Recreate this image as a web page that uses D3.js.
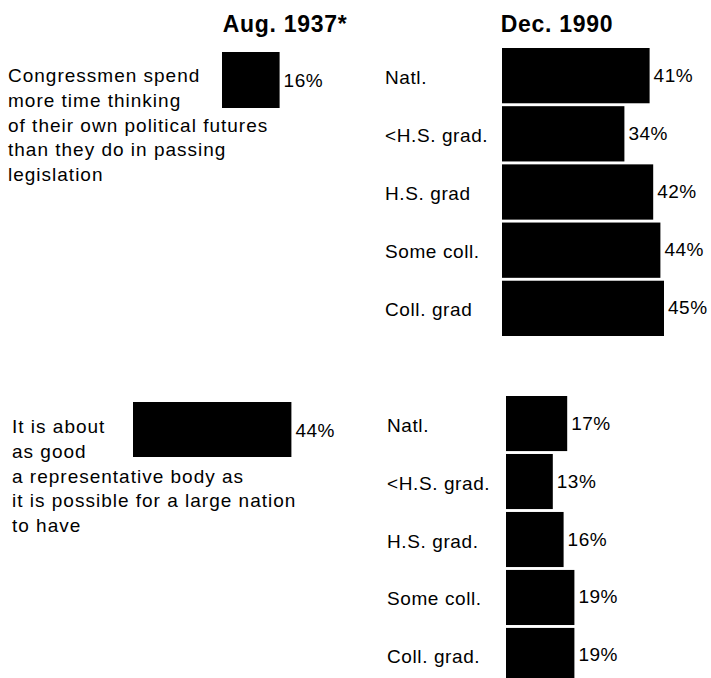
<!DOCTYPE html>
<html>
<head>
<meta charset="utf-8">
<script src="https://cdn.jsdelivr.net/npm/d3@7"></script>
<style>
  body { margin: 0; background: #fff; }
  text { font-family: "Liberation Sans", Arial, sans-serif; fill: #000; }
</style>
</head>
<body>
<div id="chart"></div>
<script>
// data
const headers = ["Aug. 1937*", "Dec. 1990"]
const question1 = ["Congressmen spend", "more time thinking", "of their own political futures", "than they do in passing", "legislation"]
const question2 = ["It is about", "as good", "a representative body as", "it is possible for a large nation", "to have"]
const aug1937 = [16, 44]
const groups1 = ["Natl.", "<H.S. grad.", "H.S. grad", "Some coll.", "Coll. grad"]
const groups2 = ["Natl.", "<H.S. grad.", "H.S. grad.", "Some coll.", "Coll. grad."]
const dec1990q1 = [41, 34, 42, 44, 45]
const dec1990q2 = [17, 13, 16, 19, 19]

const width = 711
const height = 678

const svg = d3.select("div#chart").append("svg").attr("width", width).attr("height", height)

// one scale for every bar (3.6px per point)
const x = d3.scaleLinear().domain([0, 50]).range([0, 180])

// headers
svg.selectAll("text.header").data(headers).join("text")
    .attr("class", "header")
    .attr("x", (d, i) => i == 0 ? 285 : 557)
    .attr("y", 32)
    .attr("text-anchor", "middle")
    .style("font-size", "23px")
    .style("font-weight", "bold")
    .style("letter-spacing", "0.7px")
    .text(d => d)

// left side: question text + 1937 bar
const panels = [
    {lines: question1, value: aug1937[0], textX: 8, textY: 82, barX: 222, barY: 52, barH: 56},
    {lines: question2, value: aug1937[1], textX: 12, textY: 433, barX: 133, barY: 402, barH: 55}
]

panels.forEach(p => {
    const g = svg.append("g").attr("class", "leftPanel")
    g.selectAll("text.line").data(p.lines).join("text")
        .attr("class", "line")
        .attr("x", p.textX)
        .attr("y", (d, i) => p.textY + i * 24.8)
        .style("font-size", "19px")
        .style("letter-spacing", "1px")
        .text(d => d)
    g.append("rect")
        .attr("x", p.barX)
        .attr("y", p.barY)
        .attr("width", x(p.value))
        .attr("height", p.barH)
        .attr("fill", "#000")
    g.append("text")
        .attr("x", p.barX + x(p.value) + 4)
        .attr("y", p.barY + p.barH / 2 + 7)
        .style("font-size", "19px")
        .style("letter-spacing", "0.5px")
        .text(p.value + "%")
})

// right side: 1990 breakdowns
const blocks = [
    {groups: groups1, values: dec1990q1, top: 48, bottom: 336, barX: 502, labelX: 385},
    {groups: groups2, values: dec1990q2, top: 396, bottom: 683, barX: 506, labelX: 387}
]

blocks.forEach(b => {
    const y = d3.scaleBand().domain(b.groups).range([b.top, b.bottom]).paddingInner(0.05)
    const g = svg.append("g").attr("class", "rightBlock")
    const data = b.groups.map((d, i) => ({group: d, value: b.values[i]}))

    g.selectAll("rect").data(data).join("rect")
        .attr("x", b.barX)
        .attr("y", d => y(d.group))
        .attr("width", d => x(d.value))
        .attr("height", y.bandwidth())
        .attr("fill", "#000")

    g.selectAll("text.cat").data(data).join("text")
        .attr("class", "cat")
        .attr("x", b.labelX)
        .attr("y", d => y(d.group) + y.bandwidth() / 2 + 8)
        .style("font-size", "19px")
        .style("letter-spacing", "0.6px")
        .text(d => d.group)

    g.selectAll("text.val").data(data).join("text")
        .attr("class", "val")
        .attr("x", d => b.barX + x(d.value) + 4)
        .attr("y", d => y(d.group) + y.bandwidth() / 2 + 6)
        .style("font-size", "19px")
        .style("letter-spacing", "0.5px")
        .text(d => d.value + "%")
})
</script>
</body>
</html>
